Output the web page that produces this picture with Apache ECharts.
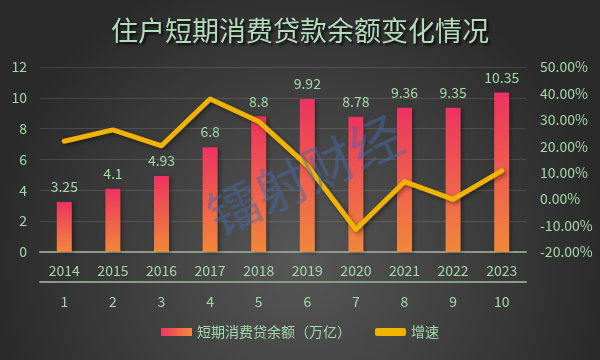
<!DOCTYPE html>
<html>
<head>
<meta charset="utf-8">
<script src="https://cdn.jsdelivr.net/npm/echarts@6/dist/echarts.min.js"></script>
<style>html,body{margin:0;padding:0;background:#333;}#c{width:600px;height:360px;}</style>
</head>
<body>
<div id="c"></div>
<script>
var titleText = '住户短期消费贷款余额变化情况';
var years = ['2014','2015','2016','2017','2018','2019','2020','2021','2022','2023'];
var indexLabels = ['1','2','3','4','5','6','7','8','9','10'];
var balance = [3.25, 4.1, 4.93, 6.8, 8.8, 9.92, 8.78, 9.36, 9.35, 10.35];
var growth = [21.9, 26.2, 20.2, 37.9, 29.4, 12.7, -11.5, 6.6, -0.1, 10.7];
var barName = '短期消费贷余额（万亿）';
var lineName = '增速';
var watermark = '镭射财经';

var green = '#a3d8a8';
var font = '"Noto Sans CJK SC", "Noto Sans", sans-serif';
var chart = echarts.init(document.getElementById('c'));
chart.setOption({
  backgroundColor: {type:'radial', x:0.5, y:0.72, r:0.85,
    colorStops:[{offset:0,color:'#575757'},{offset:1,color:'#2a2a2a'}]},
  textStyle: {fontFamily: font},
  title: {text: titleText, left:'center', top:12,
    textStyle:{color:'#b3dcbb', fontSize:27, fontWeight:'normal', fontFamily: font,
      textShadowColor:'rgba(0,0,0,0.9)', textShadowBlur:3, textShadowOffsetX:2, textShadowOffsetY:2}},
  grid: {left:40, right:74, top:67, bottom:108},
  legend: {bottom:16, left:'center', itemWidth:31, itemHeight:8, itemGap:24,
    textStyle:{color:green, fontSize:14},
    data:[
      {name: barName, icon:'rect', itemStyle:{color:{type:'linear',x:0,y:0,x2:1,y2:0,
        colorStops:[{offset:0,color:'#ee3762'},{offset:1,color:'#f08a3c'}]}}},
      {name: lineName, icon:'roundRect', itemStyle:{color:'#f0b400'}}
    ]},
  xAxis: [
    {type:'category', data: years, position:'bottom',
      axisLine:{show:true, onZero:false, lineStyle:{color:'#8a9c88', width:2}},
      axisTick:{show:false},
      axisLabel:{color:green, fontSize:14, margin:12}},
    {type:'category', data: indexLabels, position:'bottom', offset:30,
      axisLine:{show:true, onZero:false, lineStyle:{color:'#8a9c88', width:2}},
      axisTick:{show:false},
      axisLabel:{color:green, fontSize:14, margin:13}}
  ],
  yAxis: [
    {type:'value', min:0, max:12, interval:2,
      axisLine:{show:false}, axisTick:{show:false},
      splitLine:{lineStyle:{color:'rgba(255,255,255,0.12)', width:1}},
      axisLabel:{color:green, fontSize:14, margin:13}},
    {type:'value', min:-20, max:50, interval:10, position:'right',
      axisLine:{show:false}, axisTick:{show:false}, splitLine:{show:false},
      axisLabel:{color:green, fontSize:14, margin:14,
        formatter:function(v){return v.toFixed(2)+'%';}}}
  ],
  series: [
    {name: barName, type:'bar', data: balance, barWidth:15, xAxisIndex:0, yAxisIndex:0,
      itemStyle:{color:{type:'linear',x:0,y:0,x2:0,y2:1,
        colorStops:[{offset:0,color:'#ee3360'},{offset:1,color:'#f0883a'}]},
        shadowColor:'rgba(0,0,0,0.35)', shadowBlur:4, shadowOffsetX:2, shadowOffsetY:1},
      label:{show:true, position:'top', distance:8, color:green, fontSize:14}},
    {name: lineName, type:'line', data: growth, xAxisIndex:0, yAxisIndex:1,
      symbol:'none', z:5,
      lineStyle:{color:'#f0b400', width:5, cap:'round', join:'round',
        shadowColor:'rgba(0,0,0,0.4)', shadowBlur:4, shadowOffsetX:2, shadowOffsetY:2},
      itemStyle:{color:'#f0b400'}}
  ],
  graphic: [
    {type:'text', x:305, y:175, rotation: 25*Math.PI/180, z:100,
      style:{text: watermark, fontSize:52, fontFamily: font, fill:'rgba(70,105,170,0.5)',
        align:'center', verticalAlign:'middle'}}
  ]
});
</script>
</body>
</html>
